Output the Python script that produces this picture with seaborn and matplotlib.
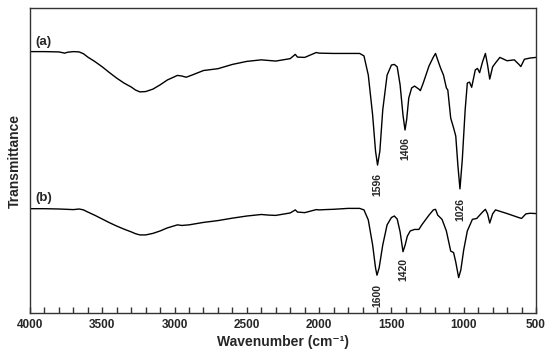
import numpy as np
import pandas as pd
import matplotlib
matplotlib.use("Agg")
import matplotlib.pyplot as plt
from matplotlib.ticker import MultipleLocator
import seaborn as sns

# FTIR spectra, transmittance in arbitrary units
wn_a = [4000, 3900, 3800, 3760, 3740, 3700, 3660, 3630, 3600, 3550, 3500, 3450, 3400, 3350,
        3300, 3270, 3240, 3200, 3150, 3100, 3050,
        2980, 2950, 2920, 2880, 2800, 2700, 2600, 2500, 2400, 2350, 2300, 2200, 2165, 2150,
        2100, 2020, 2000, 1900, 1800, 1720, 1690, 1660, 1630, 1610, 1596, 1580, 1560, 1530,
        1500, 1480, 1460, 1440, 1420, 1406, 1395, 1380, 1360, 1340, 1310, 1300, 1280, 1240,
        1210, 1195, 1180, 1160, 1140, 1120, 1110, 1090, 1070, 1055, 1040, 1026, 1010, 990,
        975, 960, 945, 920, 905, 890, 870, 850, 835, 820, 800, 780, 750, 700, 650, 620, 605,
        580, 540, 500]
t_a = [85.7, 85.7, 85.6, 85.2, 85.5, 85.7, 85.6, 85.0, 83.9, 82.4, 80.7, 78.8, 77.0, 75.4,
       74.1, 73.1, 72.5, 72.6, 73.4, 74.8, 76.4,
       77.9, 77.7, 77.3, 78.0, 79.5, 80.1, 81.5, 82.5, 83.0, 82.8, 82.6, 83.4, 84.8, 83.9,
       83.8, 85.4, 85.2, 85.1, 85.1, 85.1, 84.3, 78.0, 64.9, 53.1, 48.5, 53.1, 66.6, 78.0,
       81.3, 81.5, 80.7, 74.8, 64.9, 60.0, 63.3, 70.5, 73.8, 74.4, 73.4, 72.9, 75.4, 81.0,
       83.9, 85.1, 83.0, 80.3, 78.0, 73.8, 73.1, 63.9, 60.7, 58.0, 48.2, 40.7, 50.2, 66.6,
       75.4, 75.7, 74.0, 79.7, 80.2, 78.8, 82.3, 85.1, 81.3, 76.7, 80.7, 82.0, 83.8, 82.7,
       83.0, 81.6, 80.8, 83.2, 83.6, 83.8]

wn_b = [4000, 3900, 3800, 3700, 3660, 3630, 3600, 3550, 3500, 3450, 3400, 3350, 3300, 3270,
        3240, 3200, 3150, 3100, 3050, 2980, 2950,
        2900, 2800, 2700, 2600, 2500, 2400, 2350, 2300, 2200, 2165, 2150, 2100, 2020, 2000,
        1960, 1900, 1800, 1720, 1690, 1660, 1630, 1610, 1600, 1585, 1560, 1530, 1500, 1480,
        1460, 1440, 1420, 1405, 1390, 1370, 1340, 1310, 1290, 1240, 1210, 1195, 1180, 1150,
        1120, 1090, 1070, 1055, 1035, 1020, 1000, 975, 940, 910, 870, 850, 835, 820, 800,
        780, 700, 620, 600, 570, 540, 500]
t_b = [34.2, 34.2, 34.1, 33.9, 34.1, 33.8, 33.1, 32.0, 30.8, 29.6, 28.5, 27.5, 26.6, 26.0,
       25.6, 25.6, 26.1, 26.9, 27.9, 28.9, 28.7,
       28.9, 29.7, 30.3, 31.1, 31.8, 32.3, 32.1, 32.0, 32.8, 33.8, 33.1, 32.9, 33.9, 33.8,
       33.9, 34.0, 34.3, 34.3, 33.8, 30.5, 22.3, 14.8, 12.4, 14.8, 22.3, 28.9, 31.3, 31.8,
       30.8, 26.6, 20.1, 22.3, 25.2, 26.9, 27.4, 27.4, 28.9, 32.1, 33.8, 34.0, 32.1, 30.7,
       26.9, 20.3, 19.8, 16.7, 11.6, 14.1, 20.7, 26.9, 30.7, 31.0, 33.1, 34.0, 32.5, 29.5,
       32.5, 33.8, 32.6, 31.3, 31.0, 32.5, 32.7, 32.6]

# peak labels: (text, wavenumber, top of rotated text)
peaks_a = [("1596", 1596, 45.9), ("1406", 1406, 57.8), ("1026", 1026, 37.7)]
peaks_b = [("1600", 1600, 9.5), ("1420", 1420, 18.0)]

sns.set_theme(style="white")
plt.rcParams["font.family"] = ["Liberation Sans", "DejaVu Sans"]
plt.rcParams["font.weight"] = "bold"

fig = plt.figure(figsize=(5.5, 3.62), dpi=100)
ax = fig.add_axes([30 / 550, 1 - 313 / 362, 506 / 550, 305 / 362])

df_a = pd.DataFrame({"wn": wn_a, "t": t_a})
df_b = pd.DataFrame({"wn": wn_b, "t": t_b})
sns.lineplot(data=df_a, x="wn", y="t", ax=ax, color="black", lw=1.0, sort=False)
sns.lineplot(data=df_b, x="wn", y="t", ax=ax, color="black", lw=1.0, sort=False)

ax.set_xlim(4000, 500)
ax.set_ylim(0, 100)
ax.xaxis.set_major_locator(MultipleLocator(500))
ax.xaxis.set_minor_locator(MultipleLocator(100))
ax.tick_params(axis="x", which="both", direction="in", length=4, width=1,
               color="#333333", bottom=True, labelsize=8.5, pad=4)
ax.set_yticks([])
for lbl in ax.get_xticklabels():
    lbl.set_fontweight("bold")
for s in ax.spines.values():
    s.set_color("#333333")
    s.set_linewidth(1.0)

ax.set_xlabel("Wavenumber (cm\u207b\u00b9)", fontsize=10, fontweight="bold", labelpad=3)
ax.set_ylabel("Transmittance", fontsize=10, fontweight="bold", labelpad=6)

ax.text(3960, 89.0, "(a)", fontsize=9.5, fontweight="bold", va="center", ha="left")
ax.text(3960, 37.8, "(b)", fontsize=9.5, fontweight="bold", va="center", ha="left")

for txt, x, y in peaks_a + peaks_b:
    ax.text(x, y, txt, rotation=90, fontsize=7.5, fontweight="bold",
            ha="center", va="top")

fig.savefig("out.png", dpi=100)
